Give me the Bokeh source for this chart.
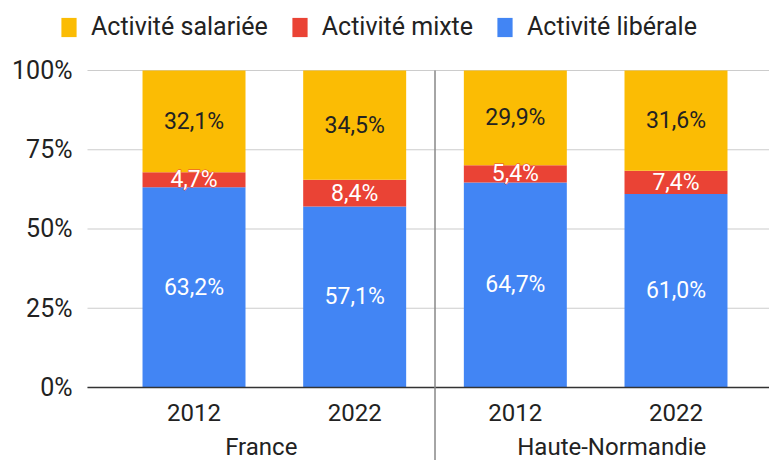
import numpy as np
from bokeh.plotting import figure
from bokeh.models import ColumnDataSource, Range1d, Span, Legend, LegendItem
from bokeh.core.properties import value
from bokeh.embed import file_html
from bokeh.resources import INLINE

# ---- data ----
groups = ["France", "Haute-Normandie"]
years = ["2012", "2022", "2012", "2022"]
liberale = [63.2, 57.1, 64.7, 61.0]
mixte = [4.7, 8.4, 5.4, 7.4]
salariee = [32.1, 34.5, 29.9, 31.6]
series_names = ["Activité salariée", "Activité mixte", "Activité libérale"]
y_ticks = [0, 25, 50, 75, 100]
y_tick_labels = ["0%", "25%", "50%", "75%", "100%"]

COL_BLUE = "#4285F4"
COL_RED = "#EA4335"
COL_YEL = "#FBBC04"
FONT = "Roboto"

xs = np.arange(len(years))
lib = np.array(liberale)
mix = np.array(mixte)
sal = np.array(salariee)

def fmt(v):
    return ("%.1f" % v).replace(".", ",") + "%"

# layout (data units): full-canvas frame, plot area starts at x_area
x_start, x_end = -1.2045, 3.582
x_area = -0.663          # left edge of the plotting area
x_ylab = -0.7564         # right edge of the y tick labels
y_start, y_end = -23.03, 122.08

p = figure(width=769, height=460, output_backend="svg", toolbar_location=None,
           x_range=Range1d(x_start, x_end), y_range=Range1d(y_start, y_end),
           x_axis_location=None, y_axis_location=None,
           min_border_left=0, min_border_right=0,
           min_border_top=0, min_border_bottom=0)
p.outline_line_color = None
p.xgrid.visible = False
p.ygrid.visible = False

# horizontal gridlines
p.segment(x0=[x_area] * len(y_ticks), y0=y_ticks, x1=[x_end] * len(y_ticks), y1=y_ticks,
          line_color="#cccccc", line_width=1.2)

# y tick labels
p.text(x=[x_ylab] * len(y_ticks), y=y_ticks, text=y_tick_labels, text_align="right",
       text_baseline="middle", text_font=value(FONT), text_font_size="25px",
       text_color="#222222")

bw = 0.641
src = ColumnDataSource(dict(
    x=xs,
    lib_b=np.zeros(len(xs)), lib_t=lib,
    mix_b=lib, mix_t=lib + mix,
    sal_b=lib + mix, sal_t=lib + mix + sal,
))
r_lib = p.vbar(x="x", width=bw, bottom="lib_b", top="lib_t", source=src,
               fill_color=COL_BLUE, line_color=None)
r_mix = p.vbar(x="x", width=bw, bottom="mix_b", top="mix_t", source=src,
               fill_color=COL_RED, line_color=None)
r_sal = p.vbar(x="x", width=bw, bottom="sal_b", top="sal_t", source=src,
               fill_color=COL_YEL, line_color=None)

# baseline
p.segment(x0=[x_area], y0=[0], x1=[x_end], y1=[0], line_color="#333333", line_width=1.5)

# group separator
sep_x = (xs[1] + xs[2]) / 2
p.segment(x0=[sep_x], y0=[y_ticks[-1]], x1=[sep_x], y1=[y_start],
          line_color="#888888", line_width=1.5)

# segment labels
lab = ColumnDataSource(dict(
    x=xs,
    y_lib=lib / 2, t_lib=[fmt(v) for v in lib],
    y_mix=lib + mix / 2, t_mix=[fmt(v) for v in mix],
    y_sal=lib + mix + sal / 2, t_sal=[fmt(v) for v in sal],
))
common = dict(text_align="center", text_baseline="middle", text_font=value(FONT),
              text_font_size="23px", source=lab)
p.text(x="x", y="y_lib", text="t_lib", text_color="white", **common)
# red halo behind the white "mixte" labels
p.text(x="x", y="y_mix", text="t_mix", text_color=COL_RED,
       text_outline_color=COL_RED, **common)
p.text(x="x", y="y_mix", text="t_mix", text_color="white", **common)
p.text(x="x", y="y_sal", text="t_sal", text_color="#222222", **common)

# x tick labels (years) and group labels
p.text(x=xs, y=[-7.9] * len(xs), text=years, text_align="center", text_baseline="middle",
       text_font=value(FONT), text_font_size="24px", text_color="#222222")
group_x = [(x_area + sep_x) / 2, 2.6]
p.text(x=group_x, y=[-18.9] * len(groups), text=groups, text_align="center",
       text_baseline="middle", text_font=value(FONT), text_font_size="24px",
       text_color="#222222")

legend = Legend(items=[LegendItem(label=series_names[0], renderers=[r_sal]),
                       LegendItem(label=series_names[1], renderers=[r_mix]),
                       LegendItem(label=series_names[2], renderers=[r_lib])],
                orientation="horizontal", location=(59, 419))
legend.padding = 0
legend.margin = 0
legend.spacing = 22
legend.glyph_width = 19
legend.glyph_height = 24
legend.label_standoff = 13
legend.label_text_font = FONT
legend.label_text_font_size = "25px"
legend.label_text_color = "#222222"
legend.border_line_color = None
legend.background_fill_alpha = 0
p.add_layout(legend)

open("out.html", "w").write(file_html(p, INLINE))
